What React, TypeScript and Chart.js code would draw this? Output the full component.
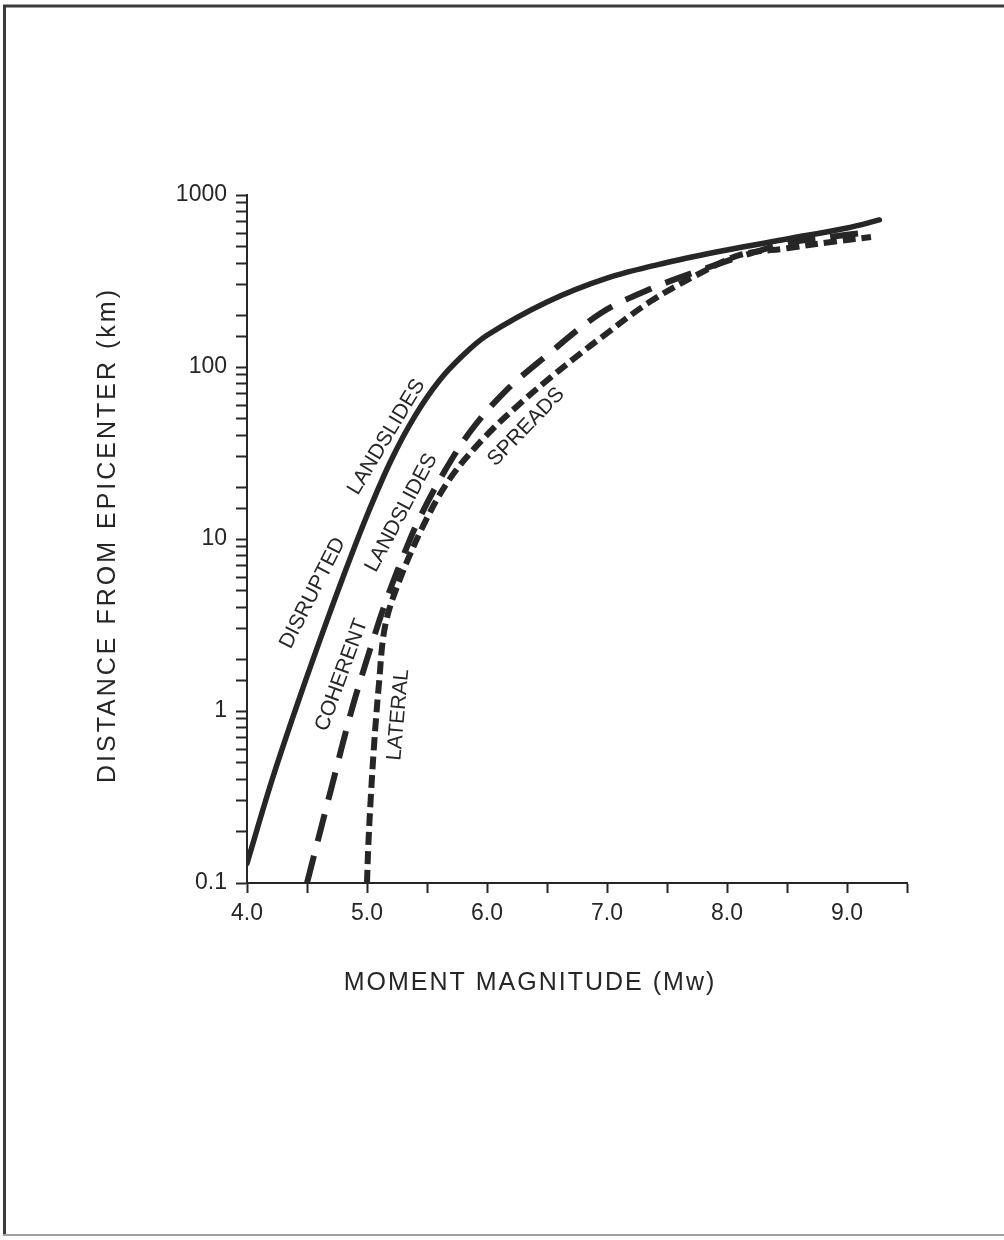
import React, { useEffect, useRef } from "react";
import { Chart, registerables } from "chart.js";

Chart.register(...registerables);

// ---- Data ----
const disruptedMagnitude = [4.0, 4.2, 4.4, 4.6, 4.8, 5.0, 5.2, 5.4, 5.6, 5.8, 6.0, 6.5, 7.0, 7.5, 8.0, 8.5, 9.0, 9.27];
const disruptedDistance = [0.13, 0.38, 1.0, 2.5, 6.0, 13.7, 28.6, 52, 83, 117, 153, 239, 329, 405, 479, 555, 643, 716];

const coherentMagnitude = [4.5, 4.7, 4.87, 5.0, 5.15, 5.3, 5.43, 5.65, 5.87, 6.15, 6.48, 6.95, 7.35, 7.78, 8.15, 8.5, 8.9, 9.2];
const coherentDistance = [0.1, 0.35, 1.0, 2.0, 4.2, 7.9, 12.9, 25, 43, 72, 114, 206, 282, 366, 447, 525, 575, 610];

const lateralMagnitude = [5.0, 5.01, 5.03, 5.06, 5.1, 5.15, 5.26, 5.48, 5.7, 5.98, 6.26, 6.53, 6.78, 6.95, 7.36, 7.78, 8.11, 8.5, 8.9, 9.2];
const lateralDistance = [0.1, 0.16, 0.3, 0.65, 1.45, 3.1, 5.5, 12.4, 22.9, 39, 60, 87, 120, 148, 240, 352, 448, 490, 537, 570];

const xTickValues = [4, 5, 6, 7, 8, 9];
const xTickLabels = ["4.0", "5.0", "6.0", "7.0", "8.0", "9.0"];
const yTickValues = [0.1, 1, 10, 100, 1000];
const yTickLabels = ["0.1", "1", "10", "100", "1000"];

const xTitle = "MOMENT MAGNITUDE (Mw)";
const yTitle = "DISTANCE FROM EPICENTER (km)";

// Curve labels: text, anchor in data coordinates, rotation in degrees
const curveLabelTexts = ["DISRUPTED", "LANDSLIDES", "COHERENT", "LANDSLIDES", "LATERAL", "SPREADS"];
const curveLabelX = [4.548, 5.163, 4.789, 5.287, 5.262, 6.326];
const curveLabelY = [4.85, 39.2, 1.62, 14.2, 0.95, 44.8];
const curveLabelAngle = [-63, -59, -70, -62, -85, -46];

const INK = "#262626";
const FONT = "'Liberation Sans', Arial, Helvetica, sans-serif";

function toPoints(xs: number[], ys: number[]) {
  return xs.map((x, i) => ({ x, y: ys[i] }));
}

const bgPlugin = {
  id: "bgAndFrame",
  beforeDraw(chart: any) {
    const { ctx, width, height } = chart;
    ctx.save();
    ctx.fillStyle = "#ffffff";
    ctx.fillRect(0, 0, width, height);
    ctx.restore();
  },
  afterDraw(chart: any) {
    const { ctx, width, height, chartArea } = chart;
    ctx.save();
    // frame
    ctx.strokeStyle = "#3a3a3a";
    ctx.lineWidth = 3;
    ctx.beginPath();
    ctx.moveTo(3, 6);
    ctx.lineTo(width, 6);
    ctx.moveTo(4.5, 5);
    ctx.lineTo(4.5, height - 5);
    ctx.stroke();
    ctx.strokeStyle = "#a0a0a0";
    ctx.lineWidth = 2;
    ctx.beginPath();
    ctx.moveTo(3, height - 5);
    ctx.lineTo(width, height - 5);
    ctx.stroke();
    // axis titles
    ctx.fillStyle = INK;
    ctx.font = `25px ${FONT}`;
    ctx.textAlign = "center";
    ctx.textBaseline = "middle";
    (ctx as any).letterSpacing = "2px";
    ctx.fillText(xTitle, chartArea.left + 283, chartArea.bottom + 100);
    (ctx as any).letterSpacing = "3px";
    ctx.translate(chartArea.left - 139, (chartArea.top + chartArea.bottom) / 2 - 4);
    ctx.rotate(-Math.PI / 2);
    ctx.fillText(yTitle, 0, 0);
    ctx.restore();
  },
};

const curveLabelPlugin = {
  id: "curveLabels",
  afterDatasetsDraw(chart: any) {
    const { ctx, scales } = chart;
    ctx.save();
    ctx.fillStyle = INK;
    ctx.font = `21px ${FONT}`;
    ctx.textAlign = "center";
    ctx.textBaseline = "middle";
    curveLabelTexts.forEach((t, i) => {
      const px = scales.x.getPixelForValue(curveLabelX[i]);
      const py = scales.y.getPixelForValue(curveLabelY[i]);
      ctx.save();
      ctx.translate(px, py);
      ctx.rotate((curveLabelAngle[i] * Math.PI) / 180);
      ctx.fillText(t, 0, 0);
      ctx.restore();
    });
    ctx.restore();
  },
};

function isPow10(v: number) {
  const l = Math.log10(v);
  return Math.abs(l - Math.round(l)) < 1e-9;
}

export default function App() {
  const ref = useRef<HTMLCanvasElement | null>(null);

  useEffect(() => {
    if (!ref.current) return;
    const chart = new Chart(ref.current, {
      type: "line",
      data: {
        datasets: [
          {
            label: "Disrupted landslides",
            data: toPoints(disruptedMagnitude, disruptedDistance),
            borderColor: INK,
            borderWidth: 5.5,
            pointRadius: 0,
            tension: 0.35,
            borderCapStyle: "round",
          },
          {
            label: "Coherent landslides",
            data: toPoints(coherentMagnitude, coherentDistance),
            borderColor: INK,
            borderWidth: 6,
            borderDash: [28, 15],
            pointRadius: 0,
            tension: 0.35,
          },
          {
            label: "Lateral spreads",
            data: toPoints(lateralMagnitude, lateralDistance),
            borderColor: INK,
            borderWidth: 6,
            borderDash: [13, 6],
            pointRadius: 0,
            tension: 0.35,
          },
        ],
      },
      options: {
        animation: false,
        responsive: false,
        devicePixelRatio: 1,
        parsing: false as any,
        layout: { padding: { left: 94.8, top: 195, right: 97, bottom: 243.8 } },
        plugins: {
          legend: { display: false },
          tooltip: { enabled: false },
        },
        scales: {
          x: {
            type: "linear",
            min: 4,
            max: 9.5,
            afterFit: (s: any) => {
              s.height = 113.2;
            },
            grid: {
              drawOnChartArea: false,
              drawTicks: true,
              tickLength: 10,
              tickColor: INK,
              tickWidth: 2,
            },
            border: { display: true, color: INK, width: 2 },
            ticks: {
              stepSize: 0.5,
              autoSkip: false,
              maxRotation: 0,
              padding: 7,
              color: INK,
              font: { family: FONT, size: 23 },
              callback: (v: any) => {
                const i = xTickValues.findIndex((t) => Math.abs(t - Number(v)) < 1e-9);
                return i >= 0 ? xTickLabels[i] : "";
              },
            },
            title: { display: false },
          },
          y: {
            type: "logarithmic",
            min: 0.1,
            max: 1000,
            afterFit: (s: any) => {
              s.width = 152.2;
            },
            grid: {
              drawOnChartArea: false,
              drawTicks: true,
              tickLength: 11,
              tickColor: INK,
              tickWidth: 2,
            },
            border: { display: true, color: INK, width: 2 },
            ticks: {
              autoSkip: false,
              padding: 9,
              color: INK,
              font: { family: FONT, size: 23 },
              callback: (v: any) => {
                const n = Number(v);
                if (!isPow10(n)) return "";
                const i = yTickValues.findIndex((t) => Math.abs(t - n) / t < 1e-6);
                return i >= 0 ? yTickLabels[i] : "";
              },
            },
            title: { display: false },
          },
        },
      },
      plugins: [bgPlugin, curveLabelPlugin],
    } as any);
    return () => chart.destroy();
  }, []);

  return (
    <div style={{ position: "absolute", left: 0, top: 0, width: 1004, height: 1240 }}>
      <canvas ref={ref} width={1004} height={1240} style={{ display: "block" }} />
    </div>
  );
}
